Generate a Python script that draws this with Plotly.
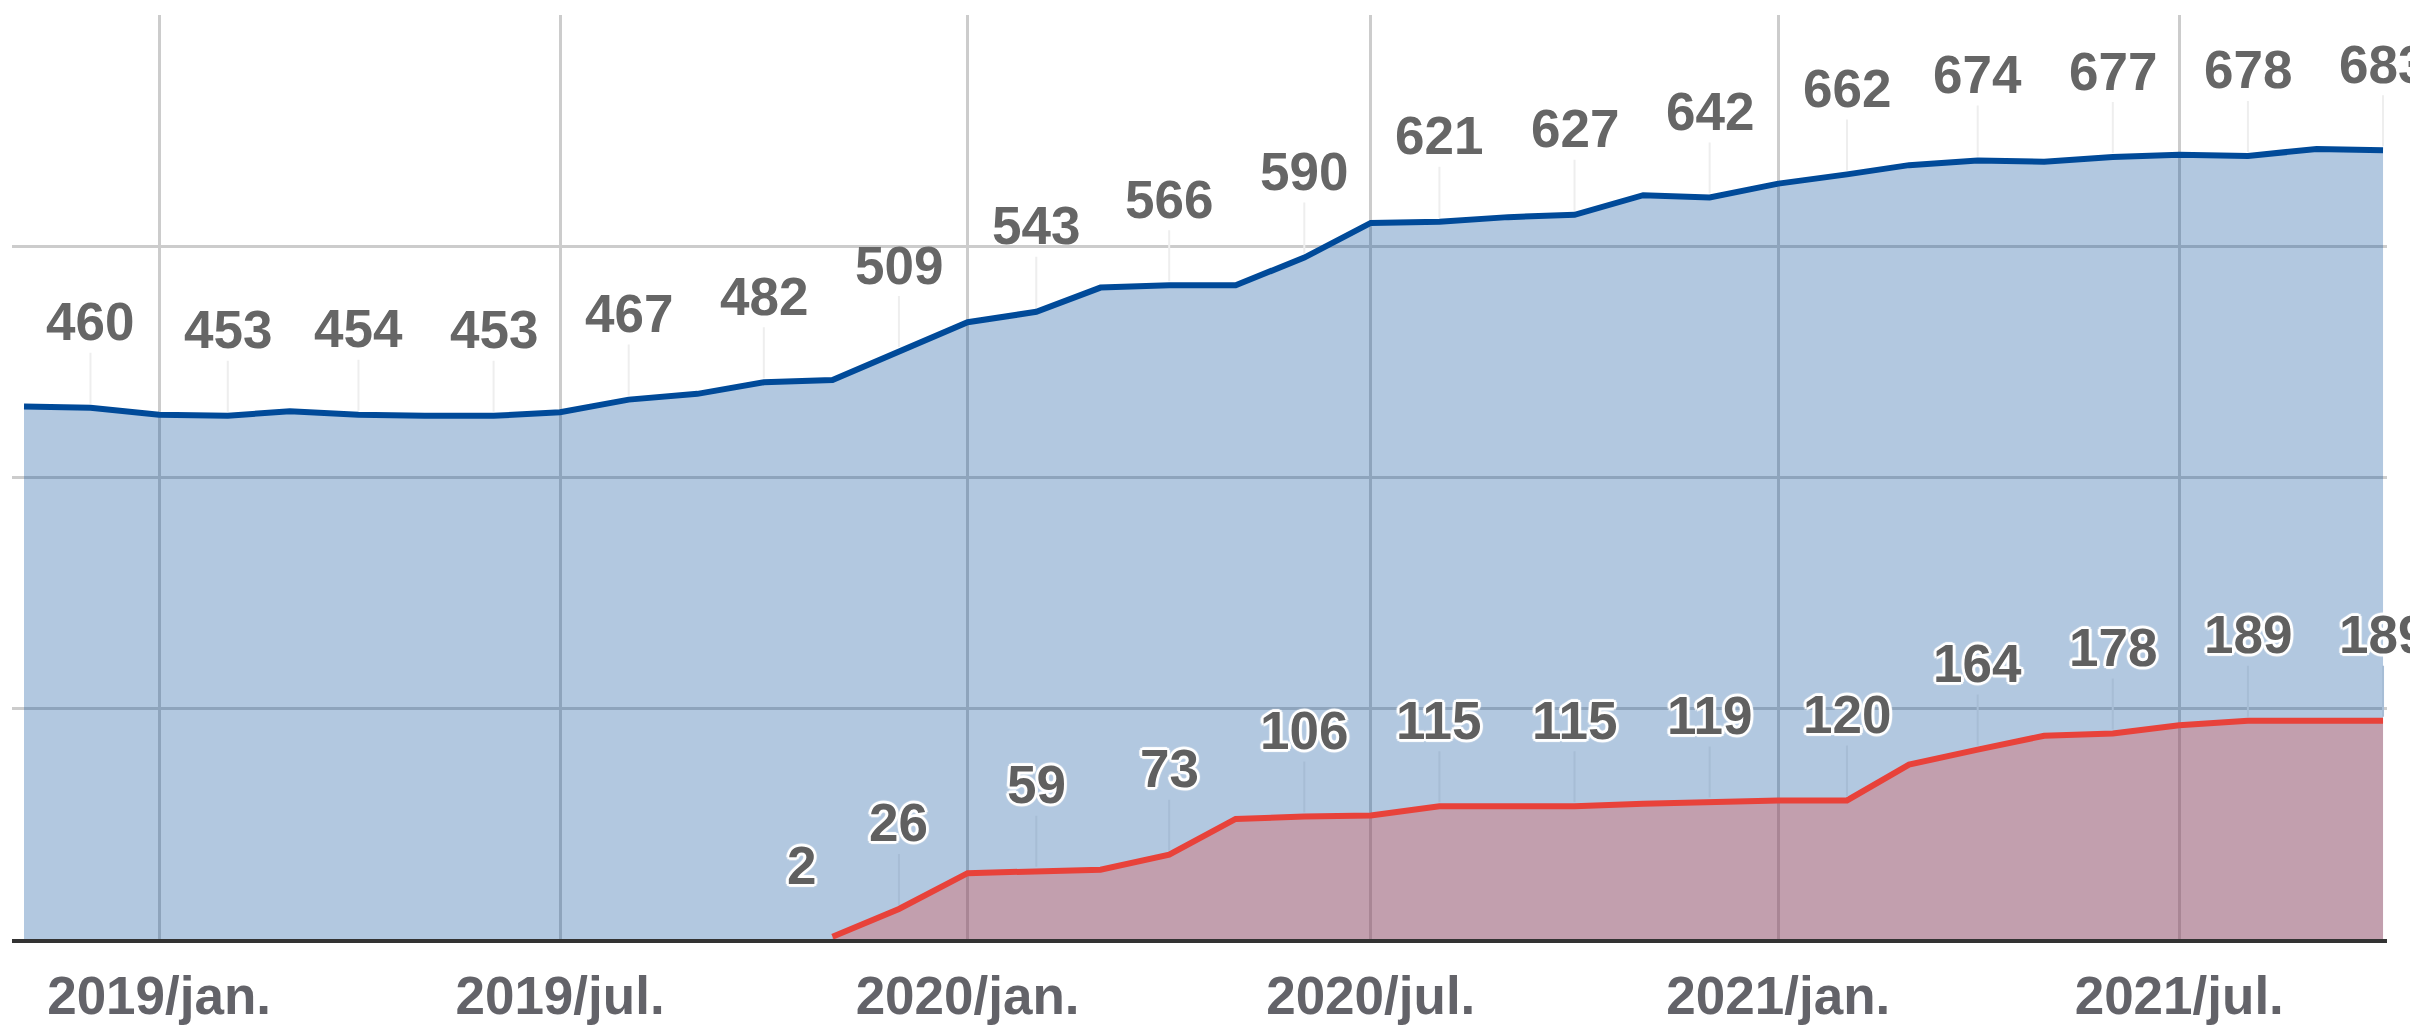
import plotly.graph_objects as go

# Monthly observations
months = [
    "2018-11-01", "2018-12-01",
    "2019-01-01", "2019-02-01", "2019-03-01", "2019-04-01", "2019-05-01", "2019-06-01",
    "2019-07-01", "2019-08-01", "2019-09-01", "2019-10-01", "2019-11-01", "2019-12-01",
    "2020-01-01", "2020-02-01", "2020-03-01", "2020-04-01", "2020-05-01", "2020-06-01",
    "2020-07-01", "2020-08-01", "2020-09-01", "2020-10-01", "2020-11-01", "2020-12-01",
    "2021-01-01", "2021-02-01", "2021-03-01", "2021-04-01", "2021-05-01", "2021-06-01",
    "2021-07-01", "2021-08-01", "2021-09-01", "2021-10-01",
]

total = [
    461, 460,
    454, 453, 457, 454, 453, 453,
    456, 467, 472, 482, 484, 509,
    534, 543, 564, 566, 566, 590,
    620, 621, 625, 627, 644, 642,
    654, 662, 670, 674, 673, 677,
    679, 678, 684, 683,
]

second = [
    None, None,
    None, None, None, None, None, None,
    None, None, None, None, 2, 26,
    57, 59, 60, 73, 104, 106,
    107, 115, 115, 115, 117, 119,
    120, 120, 151, 164, 176, 178,
    185, 189, 189, 189,
]

tick_vals = ["2019-01-01", "2019-07-01", "2020-01-01", "2020-07-01", "2021-01-01", "2021-07-01"]
tick_text = ["2019/jan.", "2019/jul.", "2020/jan.", "2020/jul.", "2021/jan.", "2021/jul."]

BLUE = "#004a99"
RED = "#e8423a"
FONT = "Liberation Sans, Arial, sans-serif"
LABEL_SIZE = 53

fig = go.Figure()

fig.add_trace(go.Scatter(
    x=months, y=total, mode="lines", fill="tozeroy",
    line=dict(color=BLUE, width=6),
    fillcolor="rgba(0,74,153,0.3)",
    hoverinfo="skip", showlegend=False,
))

red_x = [m for m, v in zip(months, second) if v is not None]
red_y = [v for v in second if v is not None]
fig.add_trace(go.Scatter(
    x=red_x, y=red_y, mode="lines", fill="tozeroy",
    line=dict(color=RED, width=6),
    fillcolor="rgba(232,65,58,0.3)",
    hoverinfo="skip", showlegend=False,
))

halo = ("-2px -2px 1px #fff, 2px -2px 1px #fff, -2px 2px 1px #fff, 2px 2px 1px #fff, "
        "0 -3px 1px #fff, 0 3px 1px #fff, -3px 0 1px #fff, 3px 0 1px #fff")

annotations = []
# Value labels every second month, with thin leader lines
for i in range(1, len(months), 2):
    annotations.append(dict(
        x=months[i], y=total[i], text=str(total[i]),
        showarrow=True, arrowhead=0, arrowwidth=2, arrowcolor="#eeeeee",
        ax=0, ay=-86, standoff=4,
        font=dict(family=FONT, size=LABEL_SIZE, color="#666666", weight="bold"),
    ))
    if second[i] is not None:
        annotations.append(dict(
            x=months[i], y=second[i], text=str(second[i]),
            showarrow=True, arrowhead=0, arrowwidth=2, arrowcolor="#a7bdd5",
            ax=0, ay=-86, standoff=4,
            font=dict(family=FONT, size=LABEL_SIZE, color="#606060", weight="bold",
                      shadow=halo),
        ))

# First point of the second series, labelled off to the side
first = next(i for i, v in enumerate(second) if v is not None)
annotations.append(dict(
    x=months[first], y=second[first], text=str(second[first]),
    showarrow=False, xshift=-31, yshift=71,
    font=dict(family=FONT, size=LABEL_SIZE, color="#606060", weight="bold", shadow=halo),
))

fig.update_layout(
    width=2410, height=1029,
    margin=dict(l=12, r=23, t=15, b=90, autoexpand=False),
    paper_bgcolor="white", plot_bgcolor="white",
    annotations=annotations,
    xaxis=dict(
        type="date", automargin=False,
        range=["2018-10-26 14:00", "2021-10-02 19:00"],
        tickvals=tick_vals, ticktext=tick_text,
        showgrid=True, gridcolor="#cccccc", gridwidth=3,
        showline=True, linecolor="#333333", linewidth=4,
        zeroline=False, ticks="",
        tickfont=dict(family=FONT, size=53, color="#636369", weight="bold"),
        ticklabelstandoff=7,
    ),
    yaxis=dict(
        range=[0, 800], dtick=200, tick0=0, automargin=False,
        showgrid=True, gridcolor="#cccccc", gridwidth=3,
        showticklabels=False, zeroline=False, showline=False, ticks="",
    ),
)

fig.write_html("out.html")
